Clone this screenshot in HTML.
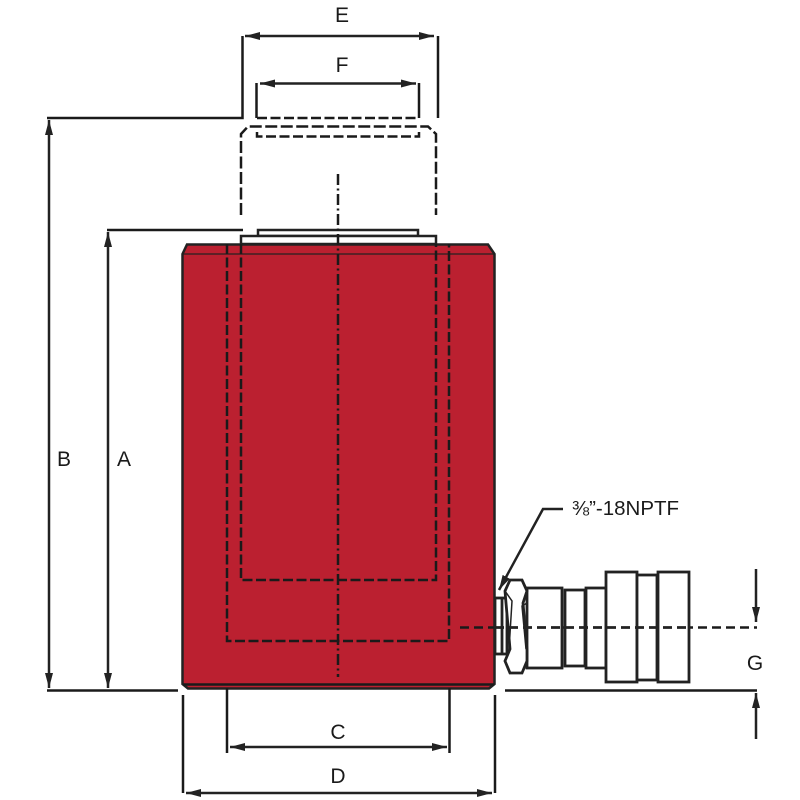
<!DOCTYPE html>
<html><head><meta charset="utf-8"><style>html,body{margin:0;padding:0;background:#fff}svg{display:block}text{font-family:"Liberation Sans",sans-serif;fill:#1a1a1a;font-size:21px;text-anchor:middle}</style></head>
<body>
<svg width="800" height="800" viewBox="0 0 800 800" xmlns="http://www.w3.org/2000/svg">
<defs>
<marker id="a" markerWidth="16" markerHeight="9" refX="15" refY="4" orient="auto-start-reverse" markerUnits="userSpaceOnUse"><path d="M0 0L15 4L0 8Z" fill="#222"/></marker>
</defs>
<!-- body -->
<path d="M187 244.500H488L494.500 254V684L489 688.500H188L182.500 684V254Z" fill="#bb2030" stroke="#222" stroke-width="2.500"/>
<path d="M182.500 254H494.500" stroke="#222" stroke-width="1.500" fill="none" opacity=".8"/>
<path d="M183 684.500H494" stroke="#1a1a1a" stroke-width="2.500" fill="none"/>
<!-- ram plates -->
<rect x="258" y="230" width="160" height="6" fill="#fff" stroke="#222" stroke-width="2.500"/>
<rect x="241" y="236" width="195" height="8" fill="#fff" stroke="#222" stroke-width="2.500"/>
<!-- hidden lines -->
<g fill="none" stroke="#1a1a1a" stroke-width="2.500">
<path d="M241 244V580H436V244" stroke-dasharray="10 3.500"/>
<path d="M227 244V641H449V244" stroke-dasharray="10 3.500"/>
<path d="M338 174V677" stroke-dasharray="11 3.500 2 3.500"/>
<path d="M241 215V134L248 126.500H428L436 134V215" stroke-dasharray="12 3.500"/>
<path d="M257 132V136.500H419V132" stroke-dasharray="10 3.500"/>
<path d="M257 118H419" stroke-dasharray="10 3.500"/>
<path d="M460 627.500H757" stroke-dasharray="9 5"/>
</g>
<!-- extension lines -->
<g fill="none" stroke="#1a1a1a" stroke-width="2.500">
<path d="M47 118H242.500V36"/>
<path d="M438 36V118"/>
<path d="M256.500 83V118M419 83V118"/>
<path d="M107 230H243"/>
<path d="M47 690.500H178"/>
<path d="M505 690.500H757"/>
<path d="M183 695V793M495 695V793"/>
<path d="M227 688V753M449.500 688V753"/>
</g>
<!-- dimension arrows -->
<g fill="none" stroke="#222" stroke-width="2.500">
<path d="M245 36H434" marker-start="url(#a)" marker-end="url(#a)"/>
<path d="M260 83.500H416" marker-start="url(#a)" marker-end="url(#a)"/>
<path d="M49 120V688" marker-start="url(#a)" marker-end="url(#a)"/>
<path d="M108 232V688" marker-start="url(#a)" marker-end="url(#a)"/>
<path d="M230 747H447" marker-start="url(#a)" marker-end="url(#a)"/>
<path d="M186 793H492" marker-start="url(#a)" marker-end="url(#a)"/>
<path d="M756 569V622" marker-end="url(#a)"/>
<path d="M756 739V693" marker-end="url(#a)"/>
<path d="M563 509H543L499 590" marker-end="url(#a)"/>
</g>
<!-- fitting -->
<g fill="#fff" stroke="#222" stroke-width="2.800">
<rect x="495" y="598" width="12" height="56"/>
<path d="M502 598V654" fill="none"/>
<rect x="527" y="588" width="35" height="80"/>
<rect x="565" y="590" width="20" height="76"/>
<rect x="586" y="588" width="20" height="80"/>
<rect x="606" y="572" width="31" height="110"/>
<rect x="637" y="575" width="20" height="105"/>
<rect x="658" y="572" width="31" height="110"/>
<path d="M510 580H522L527 591L523 603L527 650V661L522 673H510L505 661L510 649L506 603L505 591Z"/>
<path d="M505 591L512 601L509 650L505 661M527 603L522 606L526 649" fill="none" stroke-width="1.500"/>
<path d="M495 627.500H689" fill="none" stroke-dasharray="9 5"/>
</g>
<!-- labels -->
<text x="342" y="22">E</text>
<text x="342" y="72">F</text>
<text x="64" y="466">B</text>
<text x="124" y="466">A</text>
<text x="338" y="739">C</text>
<text x="338" y="783">D</text>
<text x="755" y="670">G</text>
<text x="572" y="515" style="text-anchor:start;font-size:20.500px">⅜”-18NPTF</text>
</svg>
</body></html>
